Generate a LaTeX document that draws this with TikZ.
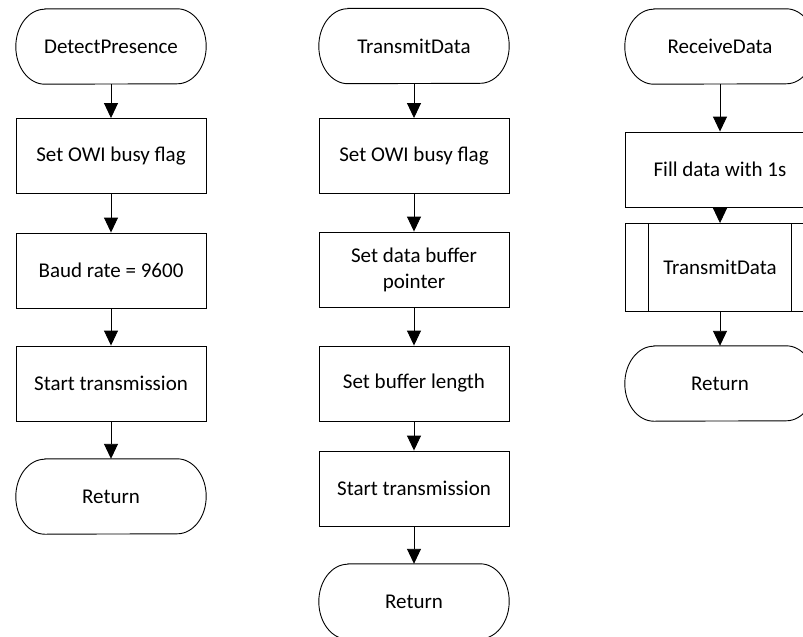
\documentclass[tikz,border=0pt]{standalone}
\usepackage{fontspec}
\setmainfont{Carlito}
\usetikzlibrary{arrows.meta}

% terminal: a box with elliptical ends
\newcommand\termnode[3]{%
  \node[termtext] (#1) at (#2) {#3};
  \draw[shape line] ([xshift=29pt]#1.north west) -- ([xshift=-29pt]#1.north east)
    arc[start angle=90,end angle=-90,x radius=29pt,y radius=37.5pt]
    -- ([xshift=29pt]#1.south west)
    arc[start angle=270,end angle=90,x radius=29pt,y radius=37.5pt] -- cycle;
}

\begin{document}
\begin{tikzpicture}[x=1pt,y=-1pt,
  font=\fontsize{21pt}{26pt}\selectfont,
  shape line/.style={draw=black,line width=0.9pt},
  termtext/.style={rectangle,draw=none,minimum width=190pt,minimum height=75pt,inner sep=0pt},
  procbox/.style={shape line,rectangle,minimum width=190pt,minimum height=75pt,inner sep=0pt,align=center},
  subbox/.style={shape line,rectangle,minimum width=190pt,minimum height=88pt,inner sep=0pt},
  flow/.style={draw=black,line width=0.9pt,-{Triangle[length=15pt,width=14pt]}}
]
\useasboundingbox (0,0) rectangle (803,637);
\clip (0,0) rectangle (803,637);

% DetectPresence
\termnode{dp}{111,46.5}{DetectPresence}
\node[procbox] (dp1) at (111,156) {Set OWI busy flag};
\node[procbox] (dp2) at (111,270.5) {Baud rate = 9600};
\node[procbox] (dp3) at (111,383.5) {Start transmission};
\termnode{dpr}{111,496.5}{Return}
\draw[flow] (dp) -- (dp1);
\draw[flow] (dp1) -- (dp2);
\draw[flow] (dp2) -- (dp3);
\draw[flow] (dp3) -- (dpr);

% TransmitData
\termnode{td}{414,46}{TransmitData}
\node[procbox] (td1) at (414,156) {Set OWI busy flag};
\node[procbox] (td2) at (414,269.5) {Set data buffer\\pointer};
\node[procbox] (td3) at (414,383.5) {Set buffer length};
\node[procbox] (td4) at (414,488.5) {Start transmission};
\termnode{tdr}{414,601.5}{Return}
\draw[flow] (td) -- (td1);
\draw[flow] (td1) -- (td2);
\draw[flow] (td2) -- (td3);
\draw[flow] (td3) -- (td4);
\draw[flow] (td4) -- (tdr);

% ReceiveData
\termnode{rd}{720,46.5}{ReceiveData}
\node[procbox] (rd1) at (720,169.5) {Fill data with 1s};
\node[subbox] (rd2) at (720,267.5) {TransmitData};
\draw[shape line] ([xshift=24pt]rd2.north west) -- ([xshift=24pt]rd2.south west);
\draw[shape line] ([xshift=-24pt]rd2.north east) -- ([xshift=-24pt]rd2.south east);
\termnode{rdr}{720,383.5}{Return}
\draw[flow] (rd) -- (rd1);
\draw[flow] (rd1) -- (rd2);
\draw[flow] (rd2) -- (rdr);
\end{tikzpicture}
\end{document}
